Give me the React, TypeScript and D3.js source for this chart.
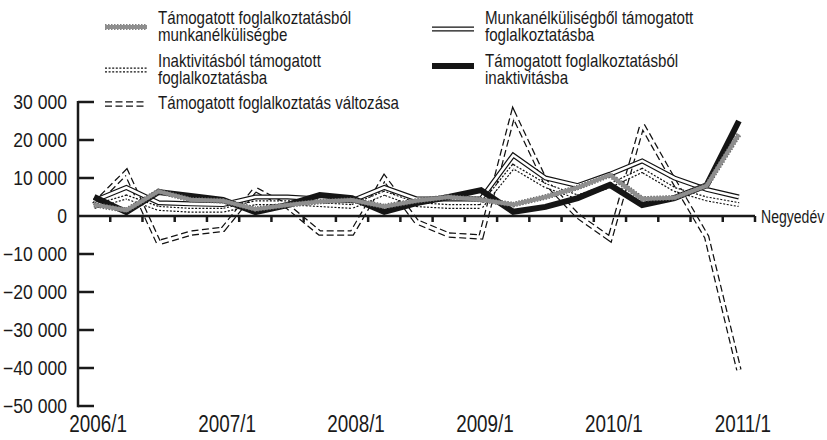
import { useEffect, useRef } from 'react';
import * as d3 from 'd3';

// quarters 2006/1 .. 2011/1
const quarters = [
  '2006/1', '2006/2', '2006/3', '2006/4',
  '2007/1', '2007/2', '2007/3', '2007/4',
  '2008/1', '2008/2', '2008/3', '2008/4',
  '2009/1', '2009/2', '2009/3', '2009/4',
  '2010/1', '2010/2', '2010/3', '2010/4',
  '2011/1'
];
const yearLabels = ['2006/1', '2007/1', '2008/1', '2009/1', '2010/1', '2011/1'];
const yTicks = [30000, 20000, 10000, 0, -10000, -20000, -30000, -40000, -50000];

// series values (persons)
const toUnemployment = [3000, 1500, 6500, 4300, 4000, 1800, 2900, 3800, 4200, 2500, 4000, 5000, 4300, 3000, 5000, 7500, 10800, 4500, 4800, 8000, 21500];
const fromUnemployment = [4000, 7500, 3500, 3200, 3000, 5000, 5000, 4500, 4000, 7500, 4500, 4500, 4500, 16000, 10000, 8000, 11000, 14500, 10000, 7000, 5000];
const fromInactivity = [2500, 5000, 2000, 1500, 1500, 3500, 3500, 3000, 2500, 6000, 3000, 2500, 2500, 13000, 8000, 5000, 8000, 12000, 7000, 4500, 3000];
const toInactivity = [5000, 1000, 6300, 5300, 4200, 1000, 2900, 5500, 4700, 1100, 3400, 5000, 6800, 1100, 2400, 4700, 8200, 2900, 4700, 8100, 25000];
const totalChange = [3000, 11500, -7000, -4500, -3500, 7000, 2500, -4500, -4500, 10000, -1500, -5000, -5500, 27000, 9000, 0, -6000, 24000, 9000, -5500, -40500];

// no condensed face installed, so a regular sans is squeezed horizontally
const FONT = '"Liberation Sans", Arial, sans-serif';
const INK = '#1a1a1a';

interface Stroke { color: string; width: number; dash?: string }
interface Style { key: string; layers: Stroke[] }

const STYLES: Record<string, Style> = {
  gray: { key: 'gray', layers: [{ color: '#5a5a5a', width: 5.5, dash: '1.5,1.5' }, { color: '#8e8e8e', width: 4 }] },
  solid: { key: 'solid', layers: [{ color: '#111', width: 5 }, { color: '#fff', width: 2.6 }] },
  dotted: { key: 'dotted', layers: [{ color: '#111', width: 5, dash: '2,1.6' }, { color: '#fff', width: 2.6 }] },
  black: { key: 'black', layers: [{ color: '#151515', width: 6 }] },
  dashed: { key: 'dashed', layers: [{ color: '#111', width: 5.5, dash: '7,3.5' }, { color: '#fff', width: 3 }] }
};

type G = d3.Selection<SVGGElement, unknown, null, undefined>;

function narrowText(g: G, x: number, y: number, text: string, size: number, sx: number, anchor = 'start') {
  g.append('text')
    .attr('transform', `translate(${x},${y}) scale(${sx},1)`)
    .attr('text-anchor', anchor)
    .attr('font-family', FONT)
    .attr('font-size', `${size}px`)
    .attr('fill', INK)
    .text(text);
}

export default function App() {
  const svgRef = useRef<SVGSVGElement>(null);

  useEffect(() => {
    document.body.style.margin = '0';
    if (!svgRef.current) return;
    const svg = d3.select(svgRef.current);
    svg.selectAll('*').remove();

    const x = d3.scaleBand().domain(quarters).range([78, 755]).padding(0);
    const cx = (q: string) => (x(q) ?? 0) + x.bandwidth() / 2;
    const y = d3.scaleLinear().domain([-50000, 30000]).range([406, 102]);

    const fmt = d3.formatLocale({ decimal: ',', thousands: ' ', grouping: [3], currency: ['', ''], minus: '−' }).format(',');

    // series, bottom to top
    const series: { values: number[]; style: Style }[] = [
      { values: totalChange, style: STYLES.dashed },
      { values: fromInactivity, style: STYLES.dotted },
      { values: fromUnemployment, style: STYLES.solid },
      { values: toInactivity, style: STYLES.black },
      { values: toUnemployment, style: STYLES.gray }
    ];

    const line = d3.line<number>()
      .x((_, i) => cx(quarters[i]))
      .y(d => y(d));

    const plot = svg.append('g');
    series.forEach(s => {
      s.style.layers.forEach(l => {
        plot.append('path')
          .attr('d', line(s.values))
          .attr('fill', 'none')
          .attr('stroke', l.color)
          .attr('stroke-width', l.width)
          .attr('stroke-dasharray', l.dash ?? null)
          .attr('stroke-linejoin', 'miter')
          .attr('stroke-miterlimit', 6);
      });
    });

    // axes
    const axis = svg.append('g').attr('stroke', INK).attr('stroke-width', 2.5);
    axis.append('line')
      .attr('x1', 78).attr('x2', 78)
      .attr('y1', y(30000) - 1).attr('y2', y(-50000) + 1.2);
    axis.selectAll('.ytick')
      .data(yTicks.filter(d => d !== 0))
      .enter()
      .append('line')
      .attr('x1', 78).attr('x2', 94)
      .attr('y1', d => y(d)).attr('y2', d => y(d));
    axis.append('line')
      .attr('x1', 78).attr('x2', 755)
      .attr('y1', y(0)).attr('y2', y(0));
    axis.selectAll('.xtick')
      .data(quarters)
      .enter()
      .append('line')
      .attr('x1', d => (x(d) ?? 0) + x.bandwidth())
      .attr('x2', d => (x(d) ?? 0) + x.bandwidth())
      .attr('y1', y(0)).attr('y2', y(0) + 6);

    const labels = svg.append('g');
    yTicks.forEach(d => narrowText(labels, 67, y(d) + 7, fmt(d), 19.5, 0.9, 'end'));
    yearLabels.forEach(d => narrowText(labels, cx(d) + 4, 432, d, 23, 0.82, 'middle'));
    narrowText(labels, 761, y(0) + 7, 'Negyedév', 18.5, 0.76);

    // legend
    const legendItems = [
      { x: 105, y: 27, lines: ['Támogatott foglalkoztatásból', 'munkanélküliségbe'], style: STYLES.gray },
      { x: 105, y: 70, lines: ['Inaktivitásból támogatott', 'foglalkoztatásba'], style: STYLES.dotted },
      { x: 105, y: 104, lines: ['Támogatott foglalkoztatás változása'], style: STYLES.dashed },
      { x: 432, y: 29, lines: ['Munkanélküliségből támogatott', 'foglalkoztatásba'], style: STYLES.solid },
      { x: 432, y: 66, lines: ['Támogatott foglalkoztatásból', 'inaktivitásba'], style: STYLES.black }
    ];
    const legend = svg.append('g');
    legendItems.forEach(item => {
      item.style.layers.forEach(l => {
        legend.append('line')
          .attr('x1', item.x).attr('x2', item.x + 42)
          .attr('y1', item.y).attr('y2', item.y)
          .attr('stroke', l.color)
          .attr('stroke-width', l.width)
          .attr('stroke-dasharray', l.dash ?? null);
      });
      const top = item.lines.length === 2 ? (item.y < 40 ? 18 : 61) : 103;
      item.lines.forEach((t, i) => {
        narrowText(legend, item.x + 53, top + i * 17 + 6, t, 18, 0.84);
      });
    });
  }, []);

  return <svg ref={svgRef} width={827} height={440} style={{ display: 'block', background: '#fff' }} />;
}
